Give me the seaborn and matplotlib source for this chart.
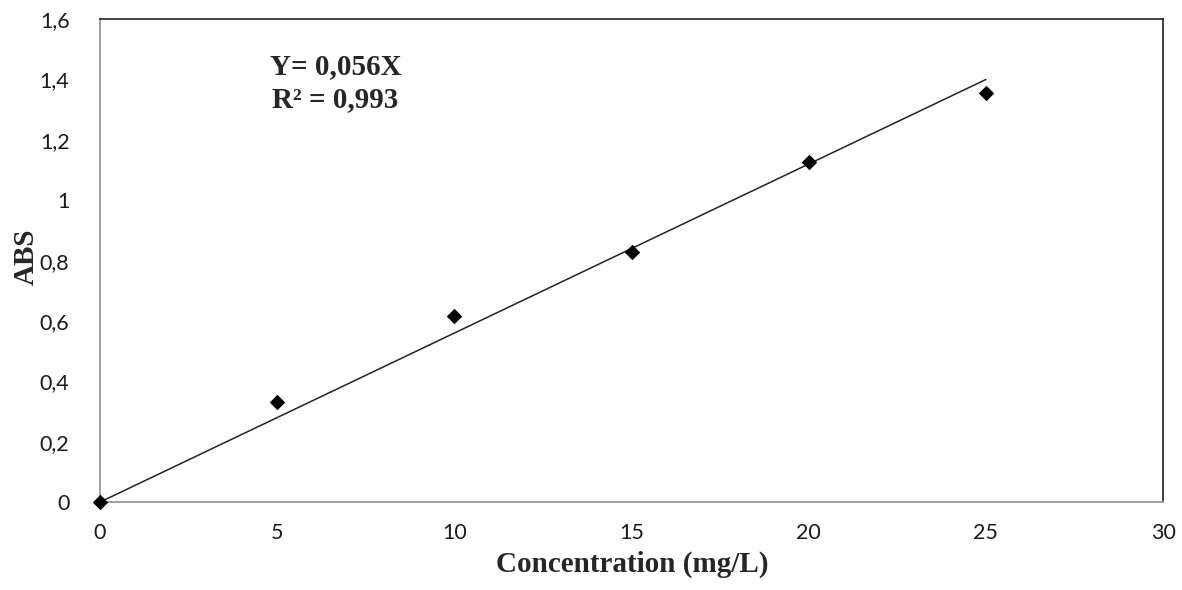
import numpy as np
import pandas as pd
import matplotlib
matplotlib.use("Agg")
import matplotlib.pyplot as plt
import seaborn as sns
from matplotlib.ticker import FuncFormatter, MultipleLocator

# calibration data
concentration = [0, 5, 10, 15, 20, 25]
absorbance = [0.0, 0.332, 0.616, 0.829, 1.125, 1.356]

# trendline through origin
slope = 0.056
r_squared = 0.993
fit_x = [0, 25]

sns.set_style("white")

fig = plt.figure(figsize=(11.82, 5.90), dpi=100)
ax = fig.add_axes([0.0846, 0.149, 0.8994, 0.8186])

data = pd.DataFrame({"conc": concentration, "abs": absorbance})
fit = pd.DataFrame({"conc": fit_x, "abs": [slope * x for x in fit_x]})

sns.lineplot(data=fit, x="conc", y="abs", ax=ax, color="#222222", linewidth=1.1)
sns.scatterplot(data=data, x="conc", y="abs", ax=ax, marker="D", s=62,
                color="black", edgecolor="black", linewidth=0, zorder=5, clip_on=False)

ax.set_xlim(0, 30)
ax.set_ylim(0, 1.6)
ax.xaxis.set_major_locator(MultipleLocator(5))
ax.yaxis.set_major_locator(MultipleLocator(0.2))
ax.yaxis.set_major_formatter(FuncFormatter(lambda v, p: f"{v:.10g}".replace(".", ",")))

for lab in ax.get_xticklabels() + ax.get_yticklabels():
    lab.set_fontfamily("Lato")
    lab.set_fontsize(15.5)
    lab.set_color("#1a1a1a")
ax.tick_params(axis="both", length=0)
ax.tick_params(axis="x", pad=15)
ax.tick_params(axis="y", pad=22)

for side in ["left", "bottom"]:
    ax.spines[side].set_color("#a0a0a0")
    ax.spines[side].set_linewidth(1.4)
for side in ["top", "right"]:
    ax.spines[side].set_color("#222222")
    ax.spines[side].set_linewidth(1.2)

serif = ["Liberation Serif", "DejaVu Serif"]
ax.set_xlabel("")
ax.set_ylabel("")
fig.text(0.5347, 0.031, "Concentration (mg/L)", ha="center", va="baseline",
         fontsize=21, fontweight="bold", family=serif)
ax.text(-0.069, 0.507, "ABS", transform=ax.transAxes, rotation=90,
        ha="center", va="center", fontsize=21, fontweight="bold", family=serif)

ax.text(0.1598, 0.887, f"Y= {slope:.3f}X".replace(".", ","), transform=ax.transAxes,
        ha="left", va="baseline", fontsize=21, fontweight="bold", family=serif)
ax.text(0.1617, 0.817, f"R² = {r_squared:.3f}".replace(".", ","), transform=ax.transAxes,
        ha="left", va="baseline", fontsize=21, fontweight="bold", family=serif)

fig.savefig("out.png", dpi=100)
